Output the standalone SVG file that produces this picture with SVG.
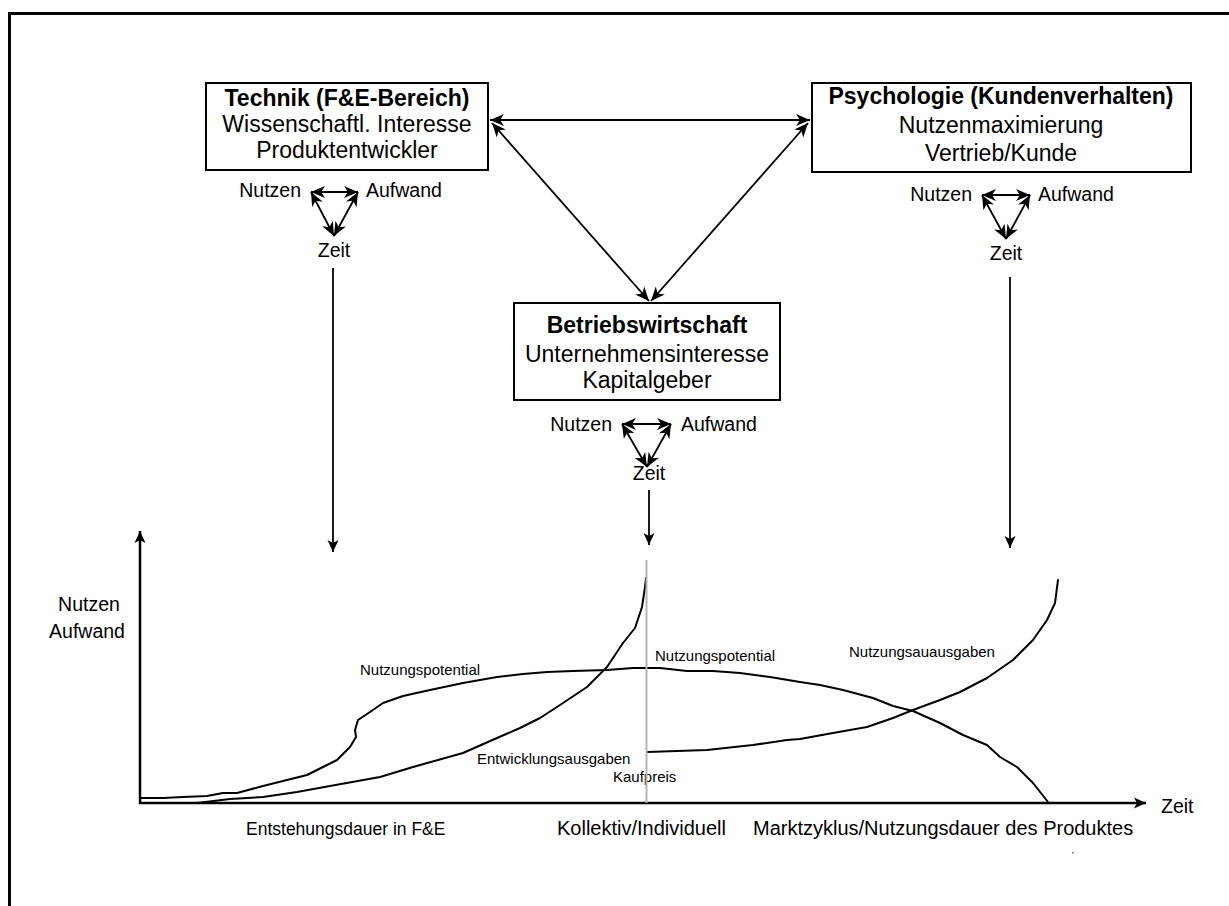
<svg xmlns="http://www.w3.org/2000/svg" width="1229" height="906" viewBox="0 0 1229 906">
<style>
text{font-family:"Liberation Sans",Arial,sans-serif;fill:#000}
.bx{fill:#fff;stroke:#000;stroke-width:2}
.t23{font-size:23px;text-anchor:middle}
.b{font-weight:bold}
.t19{font-size:19.5px}
.t20{font-size:20px}
.t15{font-size:15px}
.ln{fill:none;stroke:#000;stroke-width:1.8}
.dbl{marker-start:url(#ah);marker-end:url(#ah)}
.cv{fill:none;stroke:#000;stroke-width:2;stroke-linejoin:round;stroke-linecap:round}
.mid{text-anchor:middle}
.end{text-anchor:end}
</style>
<defs>
<marker id="ah" markerUnits="userSpaceOnUse" markerWidth="16" markerHeight="14" refX="14" refY="6" orient="auto-start-reverse" overflow="visible">
<path d="M0,0 L14,6 L0,12 L4,6 z" fill="#000"/>
</marker>
<marker id="ad" markerUnits="userSpaceOnUse" markerWidth="14" markerHeight="12" refX="12" refY="5.5" orient="auto" overflow="visible">
<path d="M0,0 L12,5.5 L0,11 L3,5.5 z" fill="#000"/>
</marker>
</defs>
<rect width="1229" height="906" fill="#fff"/>
<path d="M9.5,906 V13.5 H1229" fill="none" stroke="#000" stroke-width="3"/>

<g id="connectors">
<line class="ln dbl" x1="490" y1="120" x2="810" y2="120"/>
<line class="ln dbl" x1="492" y1="123" x2="649" y2="301"/>
<line class="ln dbl" x1="808" y1="123" x2="651" y2="301"/>
<line class="ln" x1="333" y1="268" x2="333" y2="552" marker-end="url(#ad)"/>
<line class="ln" x1="649" y1="490" x2="649" y2="545" marker-end="url(#ad)"/>
<line class="ln" x1="1010" y1="277" x2="1010" y2="548" marker-end="url(#ad)"/>
</g>

<g id="technik">
<rect class="bx" x="206" y="83" width="282" height="87"/>
<text class="t23 b" x="347" y="106">Technik (F&amp;E-Bereich)</text>
<text class="t23" x="347" y="132">Wissenschaftl. Interesse</text>
<text class="t23" x="347" y="158">Produktentwickler</text>
<text class="t19 end" x="301" y="197">Nutzen</text>
<text class="t19" x="366" y="197">Aufwand</text>
<text class="t19 mid" x="334" y="257">Zeit</text>
<line class="ln dbl" x1="311" y1="192" x2="358" y2="192"/>
<line class="ln dbl" x1="311" y1="192" x2="334" y2="236"/>
<line class="ln dbl" x1="358" y1="192" x2="334" y2="236"/>
</g>

<g id="psychologie">
<rect class="bx" x="812" y="83" width="379" height="89"/>
<text class="t23 b" x="1001" y="104">Psychologie (Kundenverhalten)</text>
<text class="t23" x="1001" y="133">Nutzenmaximierung</text>
<text class="t23" x="1001" y="161">Vertrieb/Kunde</text>
<text class="t19 end" x="972" y="201">Nutzen</text>
<text class="t19" x="1038" y="201">Aufwand</text>
<text class="t19 mid" x="1006" y="260">Zeit</text>
<line class="ln dbl" x1="982" y1="195" x2="1030" y2="195"/>
<line class="ln dbl" x1="982" y1="195" x2="1006" y2="239"/>
<line class="ln dbl" x1="1030" y1="195" x2="1006" y2="239"/>
</g>

<g id="betriebswirtschaft">
<rect class="bx" x="514" y="303" width="266" height="97"/>
<text class="t23 b" x="647" y="333">Betriebswirtschaft</text>
<text class="t23" x="647" y="362">Unternehmensinteresse</text>
<text class="t23" x="647" y="388">Kapitalgeber</text>
<text class="t19 end" x="612" y="431">Nutzen</text>
<text class="t19" x="681" y="431">Aufwand</text>
<text class="t19 mid" x="649" y="480">Zeit</text>
<line class="ln dbl" x1="622" y1="424" x2="671" y2="424"/>
<line class="ln dbl" x1="622" y1="424" x2="647" y2="467"/>
<line class="ln dbl" x1="671" y1="424" x2="647" y2="467"/>
</g>

<g id="chart">
<line x1="140" y1="804" x2="140" y2="531" stroke="#000" stroke-width="2.5" marker-end="url(#ad)"/>
<line x1="139" y1="803" x2="1146" y2="803" stroke="#000" stroke-width="2.5" marker-end="url(#ad)"/>
<text class="t19 mid" x="89" y="611">Nutzen</text>
<text class="t19 mid" x="87" y="638">Aufwand</text>
<text class="t19" x="1161" y="813">Zeit</text>
<text x="246" y="835" font-size="17.5">Entstehungsdauer in F&amp;E</text>
<text class="t20" x="557" y="835">Kollektiv/Individuell</text>
<text class="t20" x="753" y="835">Marktzyklus/Nutzungsdauer des Produktes</text>
<rect x="1072" y="852" width="1.5" height="1.5" fill="#666"/>
<path class="cv" d="M140,798 L163,798 L183,797 L207,796 L223,793 L237,793 L263,786 L283,781 L307,775 L323,767 L337,760 L350,747 L356,737 L355,730 L358,720 L370,712 L383,703 L403,696 L430,690 L463,683 L497,677 L523,674 L547,672 L573,671 L607,670 L633,668 L660,668 L687,671 L713,671 L740,673 L770,677 L800,682 L820,685 L843,690 L873,698 L893,706 L913,711 L940,723 L963,735 L987,745 L1000,757 L1017,767 L1033,783 L1048,802"/>
<path class="cv" d="M140,803 L197,803 L230,799 L263,797 L297,792 L330,786 L380,777 L413,767 L463,753 L497,738 L520,728 L540,718 L560,705 L587,687 L607,667 L623,643 L635,628 L642,607 L645,587 L646,578"/>
<path class="cv" d="M647,752 L707,750 L753,745 L787,740 L800,739 L833,733 L867,727 L893,718 L913,710 L940,700 L960,692 L987,678 L1013,660 L1033,640 L1047,620 L1055,603 L1058,580"/>
<text class="t15" x="360" y="675">Nutzungspotential</text>
<text class="t15" x="655" y="661">Nutzungspotential</text>
<text class="t15" x="849" y="657">Nutzungsauausgaben</text>
<text class="t15" x="477" y="764">Entwicklungsausgaben</text>
<text class="t15" x="613" y="782">Kaufpreis</text>
<line x1="646.5" y1="560" x2="646.5" y2="803" stroke="#b4b4b4" stroke-width="2"/>
</g>
</svg>
